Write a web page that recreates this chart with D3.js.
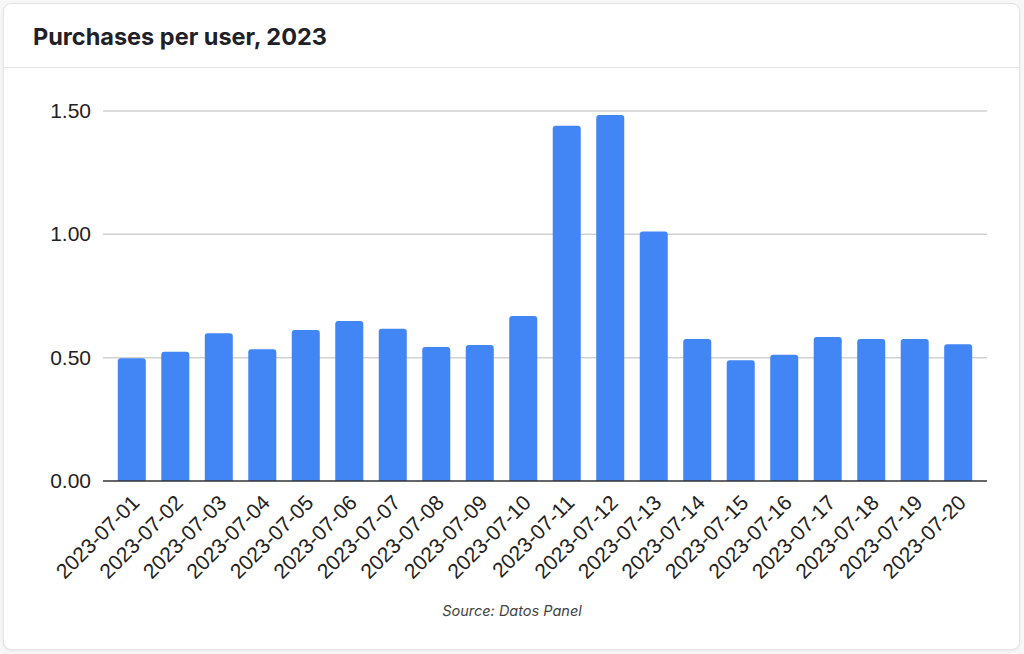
<!DOCTYPE html>
<html>
<head>
<meta charset="utf-8">
<script src="https://cdn.jsdelivr.net/npm/d3@7"></script>
<style>
  body { margin: 0; background: #f7f7f7; }
  #card {
    position: absolute; left: 3px; top: 3px; width: 1015px; height: 645px;
    background: #fff; border: 1px solid #e3e3e3; border-radius: 8px;
    box-shadow: 0 1px 3px rgba(0,0,0,0.06);
  }
</style>
</head>
<body>
<div id="card"></div>
<script>
// data
const dates = ["2023-07-01","2023-07-02","2023-07-03","2023-07-04","2023-07-05",
  "2023-07-06","2023-07-07","2023-07-08","2023-07-09","2023-07-10",
  "2023-07-11","2023-07-12","2023-07-13","2023-07-14","2023-07-15",
  "2023-07-16","2023-07-17","2023-07-18","2023-07-19","2023-07-20"];
const purchases = [0.498, 0.524, 0.599, 0.534, 0.612, 0.649, 0.617, 0.543, 0.551, 0.669,
  1.440, 1.484, 1.011, 0.576, 0.490, 0.512, 0.584, 0.576, 0.576, 0.554];
const yTicks = [0, 0.5, 1.0, 1.5];

var width = 1015, height = 645;
var svg = d3.select("#card").append("svg")
  .attr("width", width).attr("height", height)
  .style("position", "absolute").style("left", 0).style("top", 0);

// title + separator
svg.append("text")
  .attr("x", 29).attr("y", 40.5)
  .attr("font-family", "Inter, sans-serif").attr("font-weight", 700)
  .attr("font-size", 23.5).attr("fill", "#1f2128")
  .text("Purchases per user, 2023");
svg.append("line")
  .attr("x1", 0).attr("x2", width).attr("y1", 63.5).attr("y2", 63.5)
  .attr("stroke", "#e6e6e6");

// plot area (svg coords, card is offset by 4px)
var plotLeft = 99, plotRight = 983, plotTop = 107, plotBottom = 477;
var x = d3.scaleBand().domain(dates).range([plotLeft, plotRight]).paddingInner(0.356).paddingOuter(0.34);
var y = d3.scaleLinear().domain([0, 1.5]).range([plotBottom, plotTop]);

var g = svg.append("g");

// gridlines
g.selectAll("line.grid").data(yTicks.filter(d => d > 0)).enter().append("line")
  .attr("class", "grid")
  .attr("x1", plotLeft).attr("x2", plotRight)
  .attr("y1", d => y(d)).attr("y2", d => y(d))
  .attr("stroke", "#d2d2d2").attr("stroke-width", 1.5);

// y labels
g.selectAll("text.ylab").data(yTicks).enter().append("text")
  .attr("class", "ylab")
  .attr("x", plotLeft - 12).attr("y", d => y(d) + 7)
  .attr("text-anchor", "end")
  .attr("font-family", "Liberation Sans, Arial, sans-serif")
  .attr("font-size", 21).attr("fill", "#222")
  .text(d => d3.format(".2f")(d));

// bars with rounded tops
function barPath(d, i) {
  var x0 = x(dates[i]), w = x.bandwidth(), y0 = y(d), r = 3;
  return "M" + x0 + "," + plotBottom + "V" + (y0 + r) +
    "Q" + x0 + "," + y0 + " " + (x0 + r) + "," + y0 +
    "H" + (x0 + w - r) +
    "Q" + (x0 + w) + "," + y0 + " " + (x0 + w) + "," + (y0 + r) +
    "V" + plotBottom + "Z";
}
g.selectAll("path.bar").data(purchases).enter().append("path")
  .attr("class", "bar")
  .attr("d", barPath)
  .attr("fill", "#4285f4");

// baseline
g.append("line")
  .attr("x1", plotLeft).attr("x2", plotRight)
  .attr("y1", plotBottom).attr("y2", plotBottom)
  .attr("stroke", "#333").attr("stroke-width", 1.5);

// x labels
g.selectAll("text.xlab").data(dates).enter().append("text")
  .attr("class", "xlab")
  .attr("transform", d => "translate(" + (x(d) + x.bandwidth() / 2 + 9) + "," + (plotBottom + 23) + ") rotate(-45)")
  .attr("text-anchor", "end")
  .attr("font-family", "Liberation Sans, Arial, sans-serif")
  .attr("font-size", 21).attr("fill", "#222")
  .text(d => d);

// source
svg.append("text")
  .attr("x", 508).attr("y", 612)
  .attr("text-anchor", "middle")
  .attr("font-family", "Inter, sans-serif").attr("font-style", "italic")
  .attr("font-size", 14.5).attr("fill", "#444")
  .text("Source: Datos Panel");
</script>
</body>
</html>
